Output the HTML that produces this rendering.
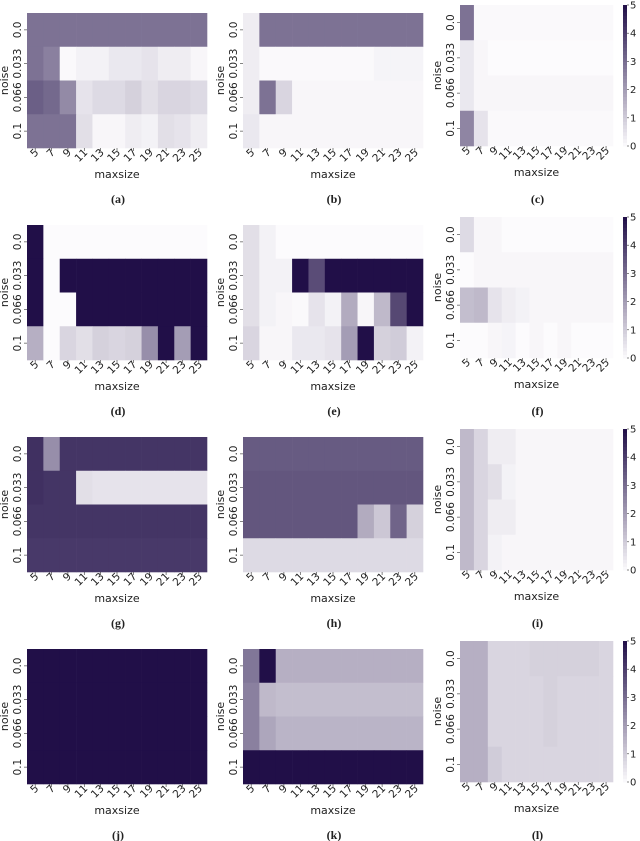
<!DOCTYPE html>
<html><head><meta charset="utf-8"><style>
html,body{margin:0;padding:0;background:#fff;width:640px;height:841px;overflow:hidden}
svg{display:block}
text{font-family:"DejaVu Sans","Liberation Sans",sans-serif;fill:#222}
</style></head><body>
<svg id="fig" width="640" height="841" viewBox="0 0 640 841" xmlns="http://www.w3.org/2000/svg"></svg>
<script>
const maxsizes = ["5","7","9","11","13","15","17","19","21","23","25"];
const noiseLabels = ["0.0","0.033","0.066","0.1"];
const cbTicks = [0,1,2,3,4,5];
const panelLabels = ["(a)","(b)","(c)","(d)","(e)","(f)","(g)","(h)","(i)","(j)","(k)","(l)"];
const dataA = [[2.9,2.9,2.9,2.9,2.9,2.9,2.9,2.9,2.9,2.9,2.9],[2.9,2.6,0.05,0.2,0.2,0.4,0.4,0.5,0.3,0.3,0.1],[3.3,3.1,2.4,0.5,0.7,0.7,0.9,0.6,0.8,0.8,0.7],[2.9,2.9,2.9,0.6,0.1,0.1,0.3,0.2,0.6,0.5,0.3]];
const dataB = [[0.3,2.9,2.9,2.9,2.9,2.9,2.9,2.9,2.9,2.9,2.9],[0.3,0.05,0.05,0.05,0.05,0.05,0.05,0.05,0.15,0.15,0.15],[0.3,2.9,0.8,0.1,0.1,0.1,0.1,0.1,0.1,0.1,0.1],[0.4,0.1,0.1,0.1,0.1,0.1,0.1,0.1,0.1,0.1,0.1]];
const dataC = [[2.9,0.05,0.05,0.05,0.05,0.05,0.05,0.05,0.05,0.05,0.05],[0.4,0.1,0,0,0,0,0,0,0,0,0],[0.4,0.1,0.1,0.1,0.1,0.1,0.1,0.1,0.1,0.1,0.1],[2.5,0.5,0.05,0.05,0.05,0.05,0.05,0.05,0.05,0.05,0.05]];
const dataD = [[5,0,0,0,0,0,0,0,0,0,0],[5,0,5,5,5,5,5,5,5,5,5],[5,0,0,5,5,5,5,5,5,5,5],[1.6,0,0.8,0.6,0.9,0.8,0.9,2.3,5,2.0,5]];
const dataE = [[0.6,0.2,0,0,0,0,0,0,0,0,0],[0.6,0.2,0.2,5,3.7,5,5,5,5,5,5],[0.6,0.2,0.1,0.05,0.5,0.2,1.7,0.1,1.4,3.8,5],[0.8,0.1,0.1,0.4,0.4,0.5,2.0,5,0.9,1.0,0.2]];
const dataF = [[0.7,0.1,0.1,0,0,0,0,0,0,0,0],[0,0.1,0.1,0.1,0.1,0.1,0.1,0.1,0.1,0.1,0.1],[1.3,1.4,0.5,0.3,0.2,0.1,0.1,0.1,0.1,0.1,0.1],[0,0,0.1,0.15,0,0.1,0,0.1,0,0,0]];
const dataG = [[4.3,2.3,4.2,4.2,4.2,4.2,4.2,4.2,4.2,4.2,4.2],[4.3,4.2,4.2,0.6,0.5,0.5,0.5,0.5,0.5,0.5,0.5],[4.2,4.2,4.2,4.2,4.2,4.2,4.2,4.2,4.2,4.2,4.2],[4.1,4.1,4.1,4.1,4.1,4.1,4.1,4.1,4.1,4.1,4.1]];
const dataH = [[3.4,3.4,3.4,3.4,3.4,3.4,3.4,3.4,3.4,3.4,3.4],[3.5,3.5,3.5,3.5,3.5,3.5,3.5,3.5,3.5,3.5,3.5],[3.5,3.5,3.5,3.5,3.5,3.5,3.5,1.7,1.1,3.2,0.9],[0.7,0.7,0.7,0.7,0.7,0.7,0.7,0.7,0.7,0.7,0.7]];
const dataI = [[1.4,0.8,0.3,0.3,0.1,0.1,0.1,0.1,0.1,0.1,0.1],[1.4,0.8,0.6,0.2,0.1,0.1,0.1,0.1,0.1,0.1,0.1],[1.4,0.8,0.3,0.3,0.1,0.1,0.1,0.1,0.1,0.1,0.1],[1.4,0.8,0.2,0.1,0.1,0.1,0.1,0.1,0.1,0.1,0.1]];
const dataJ = [[5,5,5,5,5,5,5,5,5,5,5],[5,5,5,5,5,5,5,5,5,5,5],[5,5,5,5,5,5,5,5,5,5,5],[5,5,5,5,5,5,5,5,5,5,5]];
const dataK = [[2.8,5,1.6,1.6,1.6,1.6,1.6,1.6,1.6,1.6,1.6],[2.6,1.4,1.3,1.3,1.3,1.3,1.3,1.3,1.3,1.3,1.3],[2.6,1.8,1.5,1.5,1.5,1.5,1.5,1.5,1.5,1.5,1.5],[5,5,5,5,5,5,5,5,5,5,5]];
const dataL = [[1.6,1.6,0.8,0.8,0.8,0.9,0.9,0.9,0.9,0.9,0.8],[1.6,1.6,0.8,0.8,0.8,0.8,0.9,0.8,0.8,0.8,0.8],[1.6,1.6,0.8,0.8,0.8,0.8,0.9,0.8,0.8,0.8,0.8],[1.6,1.6,1.0,0.8,0.8,0.8,0.8,0.8,0.8,0.8,0.8]];
const allData = [dataA,dataB,dataC,dataD,dataE,dataF,dataG,dataH,dataI,dataJ,dataK,dataL];

const NS="http://www.w3.org/2000/svg";
const svg=document.getElementById('fig');
function mk(tag,attrs,parent){const e=document.createElementNS(NS,tag);for(const k in attrs)e.setAttribute(k,attrs[k]);(parent||svg).appendChild(e);return e;}
function color(v){const t=Math.max(0,Math.min(1,v/5));const w=[252,251,253],d=[33,15,72];
  return `rgb(${Math.round(w[0]+(d[0]-w[0])*t)},${Math.round(w[1]+(d[1]-w[1])*t)},${Math.round(w[2]+(d[2]-w[2])*t)})`;}

const colX=[[27,207],[243,423],[460,613]];
for(let p=0;p<12;p++){
  const r=Math.floor(p/3),c=p%3;
  const x0=colX[c][0],x1=colX[c][1];
  const y0=c===2?5+212*r:13+212*r, h=c===2?141:135, y1=y0+h;
  const g=mk('g',{});
  
  
  const cw=(x1-x0)/maxsizes.length, ch=h/noiseLabels.length;
  const xs=i=>x0+i*cw, ys=j=>y0+j*ch;
  const data=allData[p];
  for(let j=0;j<noiseLabels.length;j++)for(let i=0;i<maxsizes.length;i++){
    const rc=mk('rect',{x:xs(i),y:ys(j),width:cw+0.3,height:ch+0.3,fill:color(data[j][i])},g);
    
    
  }
  for(let j=0;j<noiseLabels.length;j++){
    const cy=ys(j)+ch/2;
    mk('line',{x1:x0-3,x2:x0,y1:cy,y2:cy,stroke:'#333','stroke-width':0.6},g);
    const t=mk('text',{x:0,y:0,'font-size':10.5,'text-anchor':'middle',transform:`translate(${x0-6},${cy}) rotate(-90)`},g);
    t.textContent=noiseLabels[j];
    
    
  }
  const yl=mk('text',{'font-size':11,'text-anchor':'middle',transform:`translate(${x0-19},${y0+h/2}) rotate(-90)`},g);
  yl.textContent='noise';
  
  
  for(let i=0;i<maxsizes.length;i++){
    const cx=xs(i)+cw/2;
    mk('line',{x1:cx,x2:cx,y1:y1,y2:y1+3,stroke:'#333','stroke-width':0.6},g);
    const t=mk('text',{'font-size':10.5,'text-anchor':'end',transform:`translate(${cx+4},${y1+5}) rotate(-45)`},g);
    t.textContent=maxsizes[i];
    
    
  }
  const xl=mk('text',{x:(x0+x1)/2,y:y1+30,'font-size':11,'text-anchor':'middle'},g);
  xl.textContent='maxsize';
  
  
  const pl=mk('text',{x:(x0+x1)/2+1,y:13+212*r+190,'font-size':12,'font-weight':'bold','text-anchor':'middle',style:'font-family:"Liberation Serif",serif'},g);
  pl.textContent=panelLabels[p];
  
  
  if(c===2){
    const cb=mk('g',{},g);
    
    
    const N=40;
    for(let k=0;k<N;k++){
      mk('rect',{x:623,y:y1-(k+1)*h/N,width:4,height:h/N+0.4,fill:color(5*(k+0.5)/N)},cb);
    }
    for(const tv of cbTicks){
      const ty=y1-tv/5*h;
      mk('line',{x1:627,x2:629,y1:ty,y2:ty,stroke:'#333','stroke-width':0.6},cb);
      const t=mk('text',{x:630,y:ty+3.5,'font-size':10},cb);
      t.textContent=String(tv);
      
      
    }
  }
}
</script>
</body></html>
